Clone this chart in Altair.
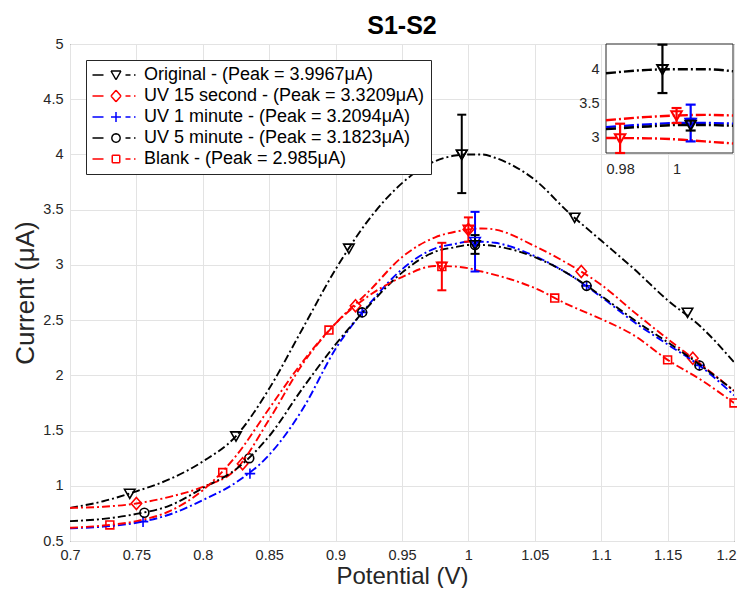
import math
import altair as alt
import pandas as pd

FONT = "Liberation Sans"

# ---------------- data ----------------
SERIES = [
    "Original - (Peak = 3.9967μA)",
    "UV 15 second - (Peak = 3.3209μA)",
    "UV 1 minute - (Peak = 3.2094μA)",
    "UV 5 minute - (Peak = 3.1823μA)",
    "Blank - (Peak = 2.985μA)",
]
COLORS = ["#000000", "#ff0000", "#0000ff", "#000000", "#ff0000"]

CURVE_X = [0.700, 0.725, 0.750, 0.775, 0.800, 0.825, 0.850, 0.875, 0.900, 0.925,
           0.950, 0.975, 0.990, 1.000, 1.010, 1.020, 1.050, 1.075, 1.100, 1.125,
           1.150, 1.175, 1.200]
Y_ORIGINAL = [0.80, 0.86, 0.95, 1.06, 1.22, 1.45, 1.88, 2.42, 2.96, 3.41,
              3.74, 3.94, 3.99, 4.00, 4.00, 3.97, 3.77, 3.48, 3.22, 2.96,
              2.68, 2.44, 2.12]
Y_UV15S = [0.80, 0.81, 0.84, 0.90, 0.99, 1.15, 1.60, 2.10, 2.47, 2.76,
           3.07, 3.25, 3.30, 3.32, 3.33, 3.32, 3.17, 3.01, 2.82, 2.57,
           2.33, 2.10, 1.86]
Y_UV1M = [0.615, 0.63, 0.665, 0.74, 0.87, 1.03, 1.28, 1.69, 2.24, 2.64,
          2.96, 3.15, 3.19, 3.21, 3.21, 3.20, 3.08, 2.92, 2.71, 2.48,
          2.28, 2.08, 1.82]
Y_UV5M = [0.68, 0.70, 0.745, 0.82, 0.98, 1.15, 1.45, 1.88, 2.28, 2.63,
          2.93, 3.12, 3.16, 3.18, 3.18, 3.17, 3.07, 2.92, 2.72, 2.50,
          2.30, 2.09, 1.86]
Y_BLANK = [0.62, 0.64, 0.68, 0.77, 0.96, 1.27, 1.70, 2.12, 2.47, 2.72,
           2.89, 2.99, 2.985, 2.97, 2.94, 2.91, 2.79, 2.64, 2.51, 2.36,
           2.14, 1.96, 1.75]

MARK_X_ORIGINAL = [0.745, 0.825, 0.910, 0.995, 1.080, 1.165]
MARK_Y_ORIGINAL = [0.93, 1.45, 3.15, 4.00, 3.43, 2.57]
MARK_X_UV15S = [0.750, 0.830, 0.915, 1.000, 1.085, 1.169]
MARK_Y_UV15S = [0.84, 1.20, 2.63, 3.32, 2.94, 2.155]
MARK_X_UV1M = [0.755, 0.8355, 0.920, 1.005, 1.089, 1.174]
MARK_Y_UV1M = [0.675, 1.11, 2.57, 3.21, 2.81, 2.09]
MARK_X_UV5M = [0.756, 0.835, 0.920, 1.005, 1.089, 1.174]
MARK_Y_UV5M = [0.756, 1.25, 2.57, 3.18, 2.81, 2.09]
MARK_X_BLANK = [0.730, 0.815, 0.895, 0.980, 1.065, 1.150, 1.200]
MARK_Y_BLANK = [0.645, 1.12, 2.41, 2.985, 2.70, 2.14, 1.75]

ERR_X = [0.995, 1.000, 1.005, 1.005, 0.980]
ERR_MID = [4.00, 3.32, 3.21, 3.18, 2.985]
ERR_LOW = [3.65, 3.21, 2.94, 3.10, 2.77]
ERR_HIGH = [4.36, 3.43, 3.48, 3.27, 3.20]

X_TICKS = [0.7, 0.75, 0.8, 0.85, 0.9, 0.95, 1.0, 1.05, 1.1, 1.15, 1.2]
Y_TICKS = [0.5, 1, 1.5, 2, 2.5, 3, 3.5, 4, 4.5, 5]
INSET_X_DOMAIN = [0.975, 1.02]
INSET_Y_DOMAIN = [2.77, 4.37]
INSET_X_TICKS = [0.98, 1.0]
INSET_Y_TICKS = [3, 3.5, 4]

# ---------------- tables ----------------
curve_rows = []
for name, ys in zip(SERIES, [Y_ORIGINAL, Y_UV15S, Y_UV1M, Y_UV5M, Y_BLANK]):
    for x, y in zip(CURVE_X, ys):
        curve_rows.append({"series": name, "x": x, "y": y})
curves = pd.DataFrame(curve_rows)

MKEYS = [f"marker-{i}" for i in range(len(SERIES))]
mark_rows = []
for name, key, xs, ys in zip(
    SERIES, MKEYS,
    [MARK_X_ORIGINAL, MARK_X_UV15S, MARK_X_UV1M, MARK_X_UV5M, MARK_X_BLANK],
    [MARK_Y_ORIGINAL, MARK_Y_UV15S, MARK_Y_UV1M, MARK_Y_UV5M, MARK_Y_BLANK],
):
    for x, y in zip(xs, ys):
        mark_rows.append({"series": name, "mkey": key, "x": x, "y": y})
markers = pd.DataFrame(mark_rows)

errs = pd.DataFrame({"series": SERIES, "x": ERR_X, "y": ERR_MID,
                     "lo": ERR_LOW, "hi": ERR_HIGH})

inset_box = pd.DataFrame({"x": [INSET_X_DOMAIN[0]], "x2": [INSET_X_DOMAIN[1]],
                          "y": [INSET_Y_DOMAIN[0]], "y2": [INSET_Y_DOMAIN[1]]})


# ---------------- marker glyphs (unit paths) ----------------
def tri(cx=0.0):
    return f"M{cx-1:.2f},-0.8L{cx+1:.2f},-0.8L{cx:.2f},0.95Z"


def diamond(cx=0.0):
    return f"M{cx:.2f},-1.15L{cx+1:.2f},0L{cx:.2f},1.15L{cx-1:.2f},0Z"


def plus(cx=0.0):
    return f"M{cx-1:.2f},0H{cx+1:.2f}M{cx:.2f},-1V1"


def circle(cx=0.0):
    r = 0.85
    return (f"M{cx+r:.2f},0A{r},{r},0,1,1,{cx-r:.2f},0"
            f"A{r},{r},0,1,1,{cx+r:.2f},0Z")


def square(cx=0.0):
    s = 0.75
    return f"M{cx-s:.2f},{-s}H{cx+s:.2f}V{s}H{cx-s:.2f}Z"


MARKERS = [tri, diamond, plus, circle, square]


# Legend glyphs are built from separate straight segments only, so they stay
# hollow whatever fill the legend applies.
def segs(pts):
    out = ""
    for i in range(len(pts)):
        a, b = pts[i], pts[(i + 1) % len(pts)]
        out += f"M{a[0]:.3f},{a[1]:.3f}L{b[0]:.3f},{b[1]:.3f}"
    return out


def tri_outline(cx):
    return segs([(cx - 1, -0.8), (cx + 1, -0.8), (cx, 0.95)])


def diamond_outline(cx):
    return segs([(cx, -1.15), (cx + 1, 0), (cx, 1.15), (cx - 1, 0)])


def plus_outline(cx):
    return f"M{cx-1:.2f},0H{cx+1:.2f}M{cx:.2f},-1V1"


def circle_outline(cx):
    r = 0.85
    return segs([(cx + r * math.cos(2 * math.pi * k / 16), r * math.sin(2 * math.pi * k / 16))
                 for k in range(16)])


def square_outline(cx):
    s = 0.75
    return segs([(cx - s, -s), (cx + s, -s), (cx + s, s), (cx - s, s)])


OUTLINES = [tri_outline, diamond_outline, plus_outline, circle_outline, square_outline]


def legend_glyph(outline):
    # dash - marker - dash - dot, like a MATLAB '-.' legend sample
    return "M-1.7,0H0.5" + outline(3.0) + "M4.9,0H5.9M6.6,0H6.9"


color_scale = alt.Scale(domain=SERIES + MKEYS, range=COLORS + COLORS)
fill_scale = alt.Scale(domain=SERIES + MKEYS, range=COLORS + COLORS)
shape_scale = alt.Scale(domain=SERIES + MKEYS,
                        range=[legend_glyph(o) for o in OUTLINES] + [m() for m in MARKERS])

legend = alt.Legend(
    values=SERIES, title=None, orient="top-left", offset=16,
    direction="vertical",
    labelFont=FONT, labelFontSize=18, labelColor="#000000", labelLimit=500,
    labelOffset=34, symbolSize=100, symbolStrokeWidth=1.5,
    symbolFillColor="transparent",
    rowPadding=3, padding=6, strokeColor="#262626", fillColor="white",
)

# ---------------- main axes ----------------
x_main_scale = alt.Scale(domain=[0.7, 1.2], nice=False, zero=False)
y_main_scale = alt.Scale(domain=[0.5, 5], nice=False, zero=False)
x_main_axis = alt.Axis(values=X_TICKS, format="~g", title="Potential (V)",
                       labelFlush=False, labelPadding=7, grid=True,
                       labelOffset={"condition": {"test": "datum.value > 1.19", "value": -8},
                                    "value": 0},
                       titleFontSize=24,
                       titleX=332, titleY=42, titleBaseline="alphabetic")
y_main_axis = alt.Axis(values=Y_TICKS, format="~g", title="Current (μA)",
                       labelPadding=7, grid=True,
                       titleX=-45, titleY=248.5, titleBaseline="middle")


def mx(field):
    return alt.X(field, scale=x_main_scale, axis=x_main_axis)


def my(field):
    return alt.Y(field, scale=y_main_scale, axis=y_main_axis)


series_color = alt.Color("series:N", scale=color_scale, legend=legend)
# error-bar caps are filled rects: colour them through a separate fill scale
cap_fill = alt.Fill("series:N", scale=fill_scale, legend=None)

points = alt.Chart(markers).mark_point(
    filled=False, size=110, strokeWidth=1.6, opacity=1
).encode(
    x=mx("x:Q"), y=my("y:Q"),
    color=alt.Color("mkey:N", scale=color_scale, legend=legend),
    shape=alt.Shape("mkey:N", scale=shape_scale, legend=legend),
)

lines = alt.Chart(curves).mark_line(
    strokeWidth=1.9, strokeDash=[8, 3, 2, 3], interpolate="monotone", clip=True
).encode(x=mx("x:Q"), y=my("y:Q"), color=series_color)

err_rule = alt.Chart(errs).mark_rule(strokeWidth=2).encode(
    x=mx("x:Q"), y=my("lo:Q"), y2="hi:Q", color=series_color)
cap_lo = alt.Chart(errs).mark_tick(orient="horizontal", size=9, thickness=2, opacity=1).encode(
    x=mx("x:Q"), y=my("lo:Q"), fill=cap_fill)
cap_hi = alt.Chart(errs).mark_tick(orient="horizontal", size=9, thickness=2, opacity=1).encode(
    x=mx("x:Q"), y=my("hi:Q"), fill=cap_fill)
err_pts = alt.Chart(errs).mark_point(shape=tri(), filled=False, size=110, strokeWidth=1.6, opacity=1).encode(
    x=mx("x:Q"), y=my("y:Q"), color=series_color)

main = alt.layer(points, lines, err_rule, cap_lo, cap_hi, err_pts)

# ---------------- inset ----------------
ix_scale = alt.Scale(domain=INSET_X_DOMAIN, range=[536, 663], nice=False, zero=False)
iy_scale = alt.Scale(domain=INSET_Y_DOMAIN, range=[109, 0], nice=False, zero=False)
ix_axis = alt.Axis(orient="bottom", offset=-388, values=INSET_X_TICKS, format="~g",
                   title=None, grid=False, labelFlush=False, labelPadding=9)
iy_axis = alt.Axis(orient="left", offset=-536, values=INSET_Y_TICKS, format="~g",
                   title=None, grid=False, labelPadding=7)


def ix(field):
    return alt.X(field, scale=ix_scale, axis=ix_axis)


def iy(field):
    return alt.Y(field, scale=iy_scale, axis=iy_axis)


frame = alt.Chart(inset_box).mark_rect(fill="white", stroke="#262626", strokeWidth=1).encode(
    x=ix("x:Q"), x2="x2:Q", y=iy("y:Q"), y2="y2:Q")
ilines = alt.Chart(curves).transform_filter(
    (alt.datum.x >= INSET_X_DOMAIN[0] - 1e-9) & (alt.datum.x <= INSET_X_DOMAIN[1] + 1e-9)
).mark_line(strokeWidth=2.4, strokeDash=[10, 3, 2, 3], interpolate="monotone").encode(
    x=ix("x:Q"), y=iy("y:Q"), color=series_color)
irule = alt.Chart(errs).mark_rule(strokeWidth=2.2).encode(
    x=ix("x:Q"), y=iy("lo:Q"), y2="hi:Q", color=series_color)
icap_lo = alt.Chart(errs).mark_tick(orient="horizontal", size=10, thickness=2.2, opacity=1).encode(
    x=ix("x:Q"), y=iy("lo:Q"), fill=cap_fill)
icap_hi = alt.Chart(errs).mark_tick(orient="horizontal", size=10, thickness=2.2, opacity=1).encode(
    x=ix("x:Q"), y=iy("hi:Q"), fill=cap_fill)
ipts = alt.Chart(errs).mark_point(shape=tri(), filled=False, size=110, strokeWidth=2, opacity=1).encode(
    x=ix("x:Q"), y=iy("y:Q"), color=series_color)

inset = alt.layer(frame, ilines, irule, icap_lo, icap_hi, ipts)

chart = alt.layer(main, inset).resolve_scale(
    x="independent", y="independent"
).properties(
    width=664, height=497,
    title=alt.Title("S1-S2", font=FONT, fontSize=25, fontWeight="bold", color="#000000",
                    anchor="middle", offset=4, dy=7),
    autosize=alt.AutoSizeParams(type="none"),
    padding={"left": 62, "top": 36, "right": 3, "bottom": 47},
).configure_view(
    stroke="#262626", strokeWidth=1
).configure_axis(
    labelFont=FONT, labelFontSize=14.5, labelColor="#262626",
    titleFont=FONT, titleFontSize=26, titleFontWeight="normal", titleColor="#262626",
    gridColor="#e3e3e3", gridWidth=1, domain=False, ticks=False, tickSize=0,
)

chart.save("out.html", embed_options={"renderer": "svg", "actions": False})
